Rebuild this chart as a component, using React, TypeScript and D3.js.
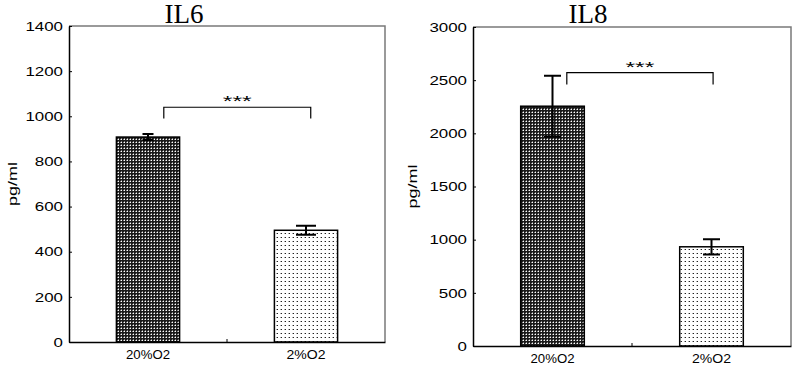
import { useEffect, useRef } from 'react';
import * as d3 from 'd3';

// data
const categories = ['20%O2', '2%O2'];
const il6Means = [908, 495];
const il6Errors = [13, 20];
const il6Ticks = [0, 200, 400, 600, 800, 1000, 1200, 1400];
const il6Bracket = [990, 1040]; // foot, top (pg/ml)

const il8Means = [2255, 933];
const il8Errors = [287, 72];
const il8Ticks = [0, 500, 1000, 1500, 2000, 2500, 3000];
const il8Bracket = [2460, 2570];

const panels = [
  {
    id: 'il6', title: 'IL6', means: il6Means, errors: il6Errors, ticks: il6Ticks, bracket: il6Bracket,
    left: 69, right: 385, top: 26, bottom: 342, titleX: 184, ylabelX: 13, caps: [11, 20],
    bracketX: [0.6, 0.53],
  },
  {
    id: 'il8', title: 'IL8', means: il8Means, errors: il8Errors, ticks: il8Ticks, bracket: il8Bracket,
    left: 473, right: 791, top: 27, bottom: 346, titleX: 588, ylabelX: 413, caps: [17, 17],
    bracketX: [0.59, 0.51],
  },
];

const sans = '"Liberation Sans", Arial, sans-serif';

export default function App() {
  const svgRef = useRef<SVGSVGElement>(null);

  useEffect(() => {
    const svg = d3.select(svgRef.current);
    svg.selectAll('*').remove();

    // fill patterns
    const defs = svg.append('defs');
    const dark = defs.append('pattern').attr('id', 'dark').attr('patternUnits', 'userSpaceOnUse')
      .attr('width', 3).attr('height', 3);
    dark.append('rect').attr('width', 3).attr('height', 3).attr('fill', '#1a1a1a');
    dark.append('rect').attr('x', 1).attr('y', 1).attr('width', 1).attr('height', 1).attr('fill', '#fff');
    dark.append('rect').attr('x', 0).attr('y', 1).attr('width', 1).attr('height', 1).attr('fill', '#888');
    dark.append('rect').attr('x', 1).attr('y', 0).attr('width', 1).attr('height', 1).attr('fill', '#777');

    const light = defs.append('pattern').attr('id', 'light').attr('patternUnits', 'userSpaceOnUse')
      .attr('width', 4).attr('height', 4);
    light.append('rect').attr('width', 4).attr('height', 4).attr('fill', '#fff');
    light.append('rect').attr('x', 1).attr('y', 1).attr('width', 1).attr('height', 1).attr('fill', '#222');
    light.append('rect').attr('x', 0).attr('y', 1).attr('width', 1).attr('height', 1).attr('fill', '#aaa');

    const fills = ['url(#dark)', 'url(#light)'];

    panels.forEach((p) => {
      const g = svg.append('g').attr('id', p.id);
      const x = d3.scaleBand<string>().domain(categories).range([p.left, p.right]).padding(0);
      const ymax = p.ticks[p.ticks.length - 1];
      const y = d3.scaleLinear().domain([0, ymax]).range([p.bottom, p.top]);
      const bw = x.bandwidth() * 0.4;

      // frame (top + right, grey)
      g.append('path')
        .attr('d', `M${p.left},${p.top}H${p.right}V${p.bottom}`)
        .attr('fill', 'none').attr('stroke', '#7a7a7a').attr('stroke-width', 1.5);

      // bars
      g.selectAll('rect.bar').data(p.means).join('rect')
        .attr('class', 'bar')
        .attr('x', (_, i) => x(categories[i])! + x.bandwidth() / 2 - bw / 2)
        .attr('y', (d) => y(d))
        .attr('width', bw)
        .attr('height', (d) => y(0) - y(d))
        .attr('fill', (_, i) => fills[i])
        .attr('stroke', '#000').attr('stroke-width', 1.5);

      // error bars
      p.means.forEach((m, i) => {
        const cx = x(categories[i])! + x.bandwidth() / 2;
        const e = p.errors[i];
        const c = p.caps[i] / 2;
        g.append('path')
          .attr('d', `M${cx},${y(m + e)}V${y(m - e)}M${cx - c},${y(m + e)}H${cx + c}M${cx - c},${y(m - e)}H${cx + c}`)
          .attr('stroke', '#000').attr('stroke-width', 2).attr('fill', 'none');
      });

      // y axis
      const yAxis = g.append('g').attr('transform', `translate(${p.left},0)`)
        .call(d3.axisLeft(y).tickValues(p.ticks).tickFormat(d3.format('d'))
          .tickSizeInner(-3).tickSizeOuter(0).tickPadding(6));
      yAxis.select('.domain').attr('stroke', '#000').attr('stroke-width', 1.5);
      yAxis.selectAll('.tick line').attr('stroke', '#000');
      yAxis.selectAll('.tick text')
        .attr('font-family', sans).attr('font-size', 13).attr('fill', '#000')
        .attr('textLength', (d: any) => String(d).length * 9.4)
        .attr('lengthAdjust', 'spacingAndGlyphs');

      // x axis
      const xAxis = g.append('g').attr('transform', `translate(0,${p.bottom})`)
        .call(d3.axisBottom(x).tickSize(0).tickSizeOuter(0));
      xAxis.select('.domain').attr('stroke', '#000').attr('stroke-width', 1.5);
      xAxis.selectAll('.tick text')
        .attr('font-family', sans).attr('font-size', 13).attr('fill', '#000')
        .attr('y', 6).attr('dy', '0.85em')
        .attr('textLength', (d: any) => (String(d).length === 5 ? 44 : 39))
        .attr('lengthAdjust', 'spacingAndGlyphs');
      xAxis.append('line')
        .attr('x1', x(categories[1])!).attr('x2', x(categories[1])!)
        .attr('y1', 0).attr('y2', -3).attr('stroke', '#000');

      // y label
      g.append('text')
        .attr('transform', `translate(${p.ylabelX},${(p.top + p.bottom) / 2}) rotate(-90)`)
        .attr('text-anchor', 'middle').attr('dy', '0.35em')
        .attr('font-family', sans).attr('font-size', 12)
        .attr('textLength', 44).attr('lengthAdjust', 'spacingAndGlyphs')
        .text('pg/ml');

      // title
      g.append('text')
        .attr('x', p.titleX).attr('y', 23)
        .attr('text-anchor', 'middle')
        .attr('font-family', '"Liberation Serif", "Times New Roman", serif').attr('font-size', 27)
        .text(p.title);

      // significance bracket
      const bx1 = x(categories[0])! + x.bandwidth() * p.bracketX[0];
      const bx2 = x(categories[1])! + x.bandwidth() * p.bracketX[1];
      const [foot, top] = p.bracket;
      g.append('path')
        .attr('d', `M${bx1},${y(foot)}V${y(top)}H${bx2}V${y(foot)}`)
        .attr('fill', 'none').attr('stroke', '#000').attr('stroke-width', 1.2);
      g.append('text')
        .attr('x', (bx1 + bx2) / 2).attr('y', y(top) - 1)
        .attr('text-anchor', 'middle')
        .attr('font-family', sans).attr('font-size', 15)
        .attr('textLength', 29).attr('lengthAdjust', 'spacingAndGlyphs')
        .text('***');
    });
  }, []);

  return (
    <svg
      ref={svgRef}
      width={800}
      height={369}
      style={{ position: 'absolute', left: 0, top: 0, background: '#fff' }}
    />
  );
}
